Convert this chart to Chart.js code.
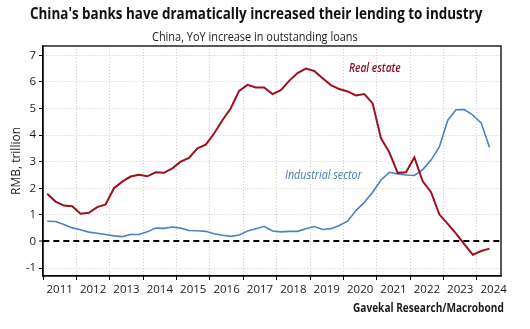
<!DOCTYPE html>
<html>
<head>
<meta charset="utf-8">
<script src="https://cdn.jsdelivr.net/npm/chart.js@4.4.0/dist/chart.umd.min.js"></script>
<style>
  html, body { margin: 0; padding: 0; background: #fff; }
  #wrap { position: relative; width: 530px; height: 329px; overflow: hidden; font-family: "Open Sans", sans-serif; }
  #chart { position: absolute; left: 0; top: 0; }
  .txt { position: absolute; left: 0; top: 0; white-space: nowrap; line-height: 1; transform-origin: 0 0; }
</style>
</head>
<body>
<div id="wrap">
  <canvas id="chart" width="530" height="329"></canvas>
  <div class="txt" id="title" style="font-size:16px;font-weight:700;color:#111">China's banks have dramatically increased their lending to industry</div>
  <div class="txt" id="subtitle" style="font-size:12px;color:#1a1a1a">China, YoY increase in outstanding loans</div>
  <div class="txt" id="lblReal" style="font-size:12px;font-style:italic;font-weight:600;color:#8b0c1a">Real estate</div>
  <div class="txt" id="lblInd" style="font-size:12px;font-style:italic;color:#4a7bb5">Industrial sector</div>
  <div class="txt" id="source" style="font-size:11.5px;font-weight:700;color:#1a1a1a">Gavekal Research/Macrobond</div>
</div>

<script>
// quarterly points, 2011Q1 .. 2024Q2
const quarters = [
  '2011Q1', '2011Q2', '2011Q3', '2011Q4',
  '2012Q1', '2012Q2', '2012Q3', '2012Q4',
  '2013Q1', '2013Q2', '2013Q3', '2013Q4',
  '2014Q1', '2014Q2', '2014Q3', '2014Q4',
  '2015Q1', '2015Q2', '2015Q3', '2015Q4',
  '2016Q1', '2016Q2', '2016Q3', '2016Q4',
  '2017Q1', '2017Q2', '2017Q3', '2017Q4',
  '2018Q1', '2018Q2', '2018Q3', '2018Q4',
  '2019Q1', '2019Q2', '2019Q3', '2019Q4',
  '2020Q1', '2020Q2', '2020Q3', '2020Q4',
  '2021Q1', '2021Q2', '2021Q3', '2021Q4',
  '2022Q1', '2022Q2', '2022Q3', '2022Q4',
  '2023Q1', '2023Q2', '2023Q3', '2023Q4',
  '2024Q1', '2024Q2'
];

// RMB trillion, YoY increase
const realEstate = [
  1.79, 1.50, 1.35, 1.32,
  1.04, 1.08, 1.29, 1.39,
  2.00, 2.25, 2.44, 2.51,
  2.45, 2.60, 2.58, 2.75,
  3.00, 3.14, 3.50, 3.64,
  4.06, 4.56, 5.01, 5.66,
  5.89, 5.79, 5.79, 5.54,
  5.69, 6.04, 6.33, 6.50,
  6.41, 6.14, 5.88, 5.73,
  5.64, 5.49, 5.54, 5.19,
  3.88, 3.35, 2.58, 2.60,
  3.16, 2.26, 1.85, 1.01,
  0.66, 0.29, -0.11, -0.50,
  -0.36, -0.27
];

const industry = [
  0.76, 0.75, 0.64, 0.51,
  0.44, 0.35, 0.31, 0.26,
  0.21, 0.18, 0.26, 0.26,
  0.36, 0.50, 0.49, 0.54,
  0.50, 0.41, 0.40, 0.38,
  0.29, 0.23, 0.19, 0.24,
  0.39, 0.48, 0.57, 0.39,
  0.36, 0.38, 0.38, 0.48,
  0.56, 0.45, 0.48, 0.60,
  0.76, 1.16, 1.47, 1.85,
  2.31, 2.60, 2.54, 2.50,
  2.48, 2.70, 3.06, 3.56,
  4.56, 4.95, 4.96, 4.75,
  4.46, 3.54
];

const years = [2011, 2012, 2013, 2014, 2015, 2016, 2017, 2018, 2019, 2020, 2021, 2022, 2023, 2024];
const yTicks = [-1, 0, 1, 2, 3, 4, 5, 6, 7];

// quarter label -> decimal year (middle of the quarter)
function toX(q) {
  const yr = parseInt(q.slice(0, 4), 10);
  const n = parseInt(q.slice(5), 10);
  return yr + (n - 1) / 4 + 0.125;
}

function series(vals) {
  return vals.map((v, i) => ({ x: toX(quarters[i]), y: v }));
}

const GRID = '#cccccc';
const tickFont = { family: '"Open Sans", sans-serif', size: 11.5 };

// black frame round the plot area
const frame = {
  id: 'frame',
  beforeDatasetsDraw(chart) {
    const { ctx, chartArea: a } = chart;
    ctx.save();
    ctx.strokeStyle = '#000';
    ctx.lineWidth = 1.3;
    ctx.strokeRect(a.left, a.top, a.right - a.left, a.bottom - a.top);
    ctx.restore();
  }
};

new Chart(document.getElementById('chart'), {
  type: 'line',
  data: {
    datasets: [
      {
        label: 'Real estate',
        data: series(realEstate),
        borderColor: '#a0101e',
        borderWidth: 2,
        pointRadius: 0,
        tension: 0
      },
      {
        label: 'Industrial sector',
        data: series(industry),
        borderColor: '#4c82c0',
        borderWidth: 1.6,
        pointRadius: 0,
        tension: 0
      }
    ]
  },
  options: {
    responsive: false,
    animation: false,
    devicePixelRatio: 1,
    layout: { padding: { top: 46, right: 29, left: 0, bottom: 0 } },
    scales: {
      x: {
        type: 'linear',
        min: 2011,
        max: 2024.72,
        afterBuildTicks: (s) => {
          const t = [];
          years.forEach(y => { t.push({ value: y }); t.push({ value: y + 0.5 }); });
          s.ticks = t;
        },
        afterFit: (s) => { s.height = 53; },
        ticks: {
          autoSkip: false,
          maxRotation: 0,
          padding: 3,
          color: '#1a1a1a',
          font: tickFont,
          callback: (v) => (v % 1 === 0.5 ? String(Math.floor(v)) : '')
        },
        grid: {
          color: (c) => (c.tick && c.tick.value % 1 === 0 ? GRID : 'rgba(0,0,0,0)'),
          tickColor: (c) => (c.tick && c.tick.value % 1 === 0 ? '#000' : 'rgba(0,0,0,0)'),
          tickLength: 4,
          lineWidth: 1,
          tickWidth: 1
        },
        border: { color: '#000', width: 1.3, dash: [1, 2] }
      },
      y: {
        min: -1.3,
        max: 7.35,
        afterBuildTicks: (s) => { s.ticks = yTicks.map(v => ({ value: v })); },
        afterFit: (s) => { s.width = 43; },
        ticks: { padding: 3, color: '#1a1a1a', font: tickFont },
        grid: {
          color: (c) => (c.tick && c.tick.value === 0 ? '#000' : GRID),
          lineWidth: (c) => (c.tick && c.tick.value === 0 ? 2 : 1),
          tickColor: '#000',
          tickLength: 4,
          tickWidth: 1
        },
        border: {
          color: '#000',
          width: 1.3,
          dash: (c) => (c.tick && c.tick.value === 0 ? [6, 4] : [1, 2])
        },
        title: {
          display: true,
          text: 'RMB, trillion',
          color: '#1a1a1a',
          font: { family: '"Open Sans", sans-serif', size: 12 },
          padding: { top: 9, bottom: 0 }
        }
      }
    },
    plugins: {
      legend: { display: false },
      tooltip: { enabled: false }
    }
  },
  plugins: [frame]
});

// put an HTML text at a left edge and baseline, squeezed to the given width
function place(id, x, baseline, w) {
  const el = document.getElementById(id);
  const probe = document.createElement('span');
  probe.style.cssText = 'display:inline-block;width:0;height:0;';
  el.appendChild(probe);
  const off = probe.offsetTop;
  el.removeChild(probe);
  const nat = el.offsetWidth;
  el.style.left = x + 'px';
  el.style.top = (baseline - off) + 'px';
  if (w) el.style.transform = 'scaleX(' + (w / nat) + ')';
}

place('title', 30, 18.5, 452);
place('subtitle', 151.7, 40.7, 206);
place('lblReal', 349, 72.3, 52);
place('lblInd', 285, 179, 77);
place('source', 353, 312.3, 151);
</script>
</body>
</html>
